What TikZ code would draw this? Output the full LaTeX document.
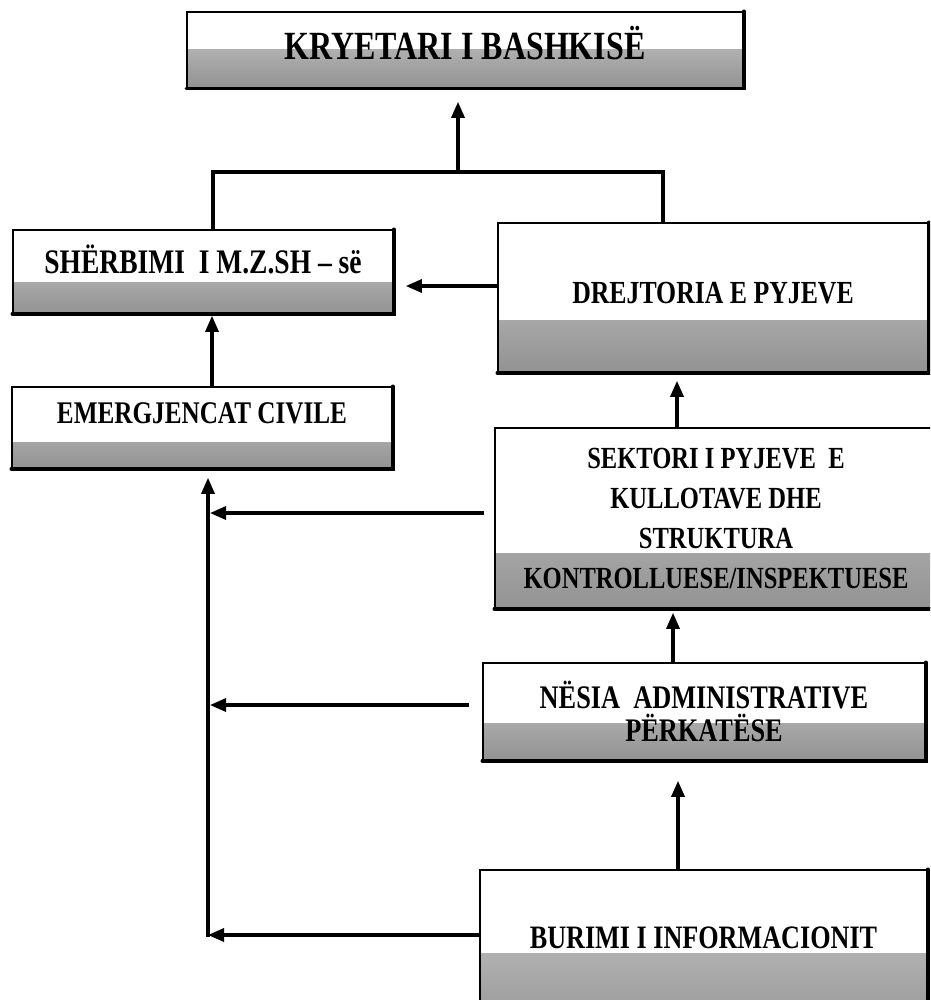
\documentclass[tikz,border=0pt]{standalone}
\usepackage{fontspec}
\setmainfont{Liberation Serif}[FakeStretch=0.8]
\usetikzlibrary{arrows.meta,calc}
\begin{document}
\begin{tikzpicture}[x=1pt,y=-1pt,
  box/.style={draw=black, line width=1.6pt, rectangle, inner sep=0pt, align=center},
  fs/.style={font=\bfseries\fontsize{#1}{#1}\selectfont},
  band/.style={path picture={\shade[top color=gray!40,bottom color=gray!85]
      (path picture bounding box.south west) rectangle ([yshift=#1]path picture bounding box.south east);}},
  rim/.style={line width=3.4pt, line cap=round},
  conn/.style={line width=3.2pt},
  arr/.style={conn, -{Triangle[length=16pt,width=13pt]}}
]
\useasboundingbox (0,0) rectangle (930,1000);
\fill[white] (0,0) rectangle (930,1000);
\clip (0,0) rectangle (930,1000);

% boxes
\node[box, band=38pt, minimum width=556pt, minimum height=76pt, fs=40,
      text height=18.5pt, text depth=0pt] (kry) at (465,50) {KRYETARI I BASHKISË};
\node[box, band=31pt, minimum width=380pt, minimum height=83pt, fs=34.4,
      text height=3.8pt, text depth=0pt] (sherb) at (203,271.5) {SHËRBIMI\ \ I M.Z.SH – së};
\node[box, band=26pt, minimum width=380pt, minimum height=81pt, fs=31.5,
      text height=0pt, text depth=7.1pt] (emerg) at (202,427.5) {EMERGJENCAT CIVILE};
\node[box, band=52pt, minimum width=430pt, minimum height=149pt, fs=32.2,
      text height=11.3pt, text depth=0pt] (drej) at (713,297.5) {DREJTORIA E PYJEVE};
\node[box, band=55pt, minimum width=442pt, minimum height=180pt,
      font=\bfseries\fontsize{30.7}{40}\selectfont] (sekt) at (716,518)
      {SEKTORI I PYJEVE\ \ E\\KULLOTAVE DHE\\STRUKTURA\\KONTROLLUESE/INSPEKTUESE};
\node[box, band=37pt, minimum width=442pt, minimum height=97pt,
      font=\bfseries\fontsize{32.9}{33}\selectfont] (nesia) at (704,711.5)
      {NËSIA\ \ ADMINISTRATIVE\\PËRKATËSE};
\node[box, band=87pt, minimum width=447pt, minimum height=170pt, fs=32.7,
      text height=0pt, text depth=13.4pt] (burimi) at (703.5,955) {BURIMI I INFORMACIONIT};

% darker bottom/right rims (scan shadow)
\foreach \n in {kry,sherb,emerg,drej,sekt,nesia,burimi}
  \draw[rim] (\n.south west) -- (\n.south east) -- (\n.north east);

% junction line above SHERBIMI and DREJTORIA
\coordinate (jl) at (213,172);
\coordinate (jm) at (458,172);
\coordinate (jr) at (663,172);
\draw[conn] (sherb.north -| jl) -- (jl) -- (jr) -- (drej.north -| jr);
\draw[arr, shorten >=13pt] (jm) -- (kry.south -| jm);

% DREJTORIA -> SHERBIMI
\coordinate (h2) at (450,286);
\draw[arr, shorten >=12pt] (drej.west |- h2) -- (sherb.east |- h2);

% EMERGJENCAT -> SHERBIMI
\coordinate (v3) at (212,0);
\draw[arr, shorten >=2pt] (emerg.north -| v3) -- (sherb.south -| v3);

% left collector line -> EMERGJENCAT
\coordinate (c0) at (208,935);
\draw[arr, shorten >=9pt] ([yshift=-1.6pt]c0) -- (emerg.south -| c0);

% right column -> left collector
\coordinate (h5) at (210,513);
\coordinate (h6) at (210,705);
\draw[arr, shorten <=10pt] (sekt.west |- h5) -- (h5);
\draw[arr, shorten <=13pt] (nesia.west |- h6) -- (h6);
\draw[arr] (burimi.west |- c0) -- (c0);

% vertical arrows in right column
\coordinate (v8) at (677,0);
\coordinate (v9) at (673,0);
\coordinate (v10) at (678,0);
\draw[arr, shorten >=8pt] (sekt.north -| v8) -- (drej.south -| v8);
\draw[arr, shorten >=4pt] (nesia.north -| v9) -- (sekt.south -| v9);
\draw[arr, shorten >=20pt] (burimi.north -| v10) -- (nesia.south -| v10);
\end{tikzpicture}
\end{document}
